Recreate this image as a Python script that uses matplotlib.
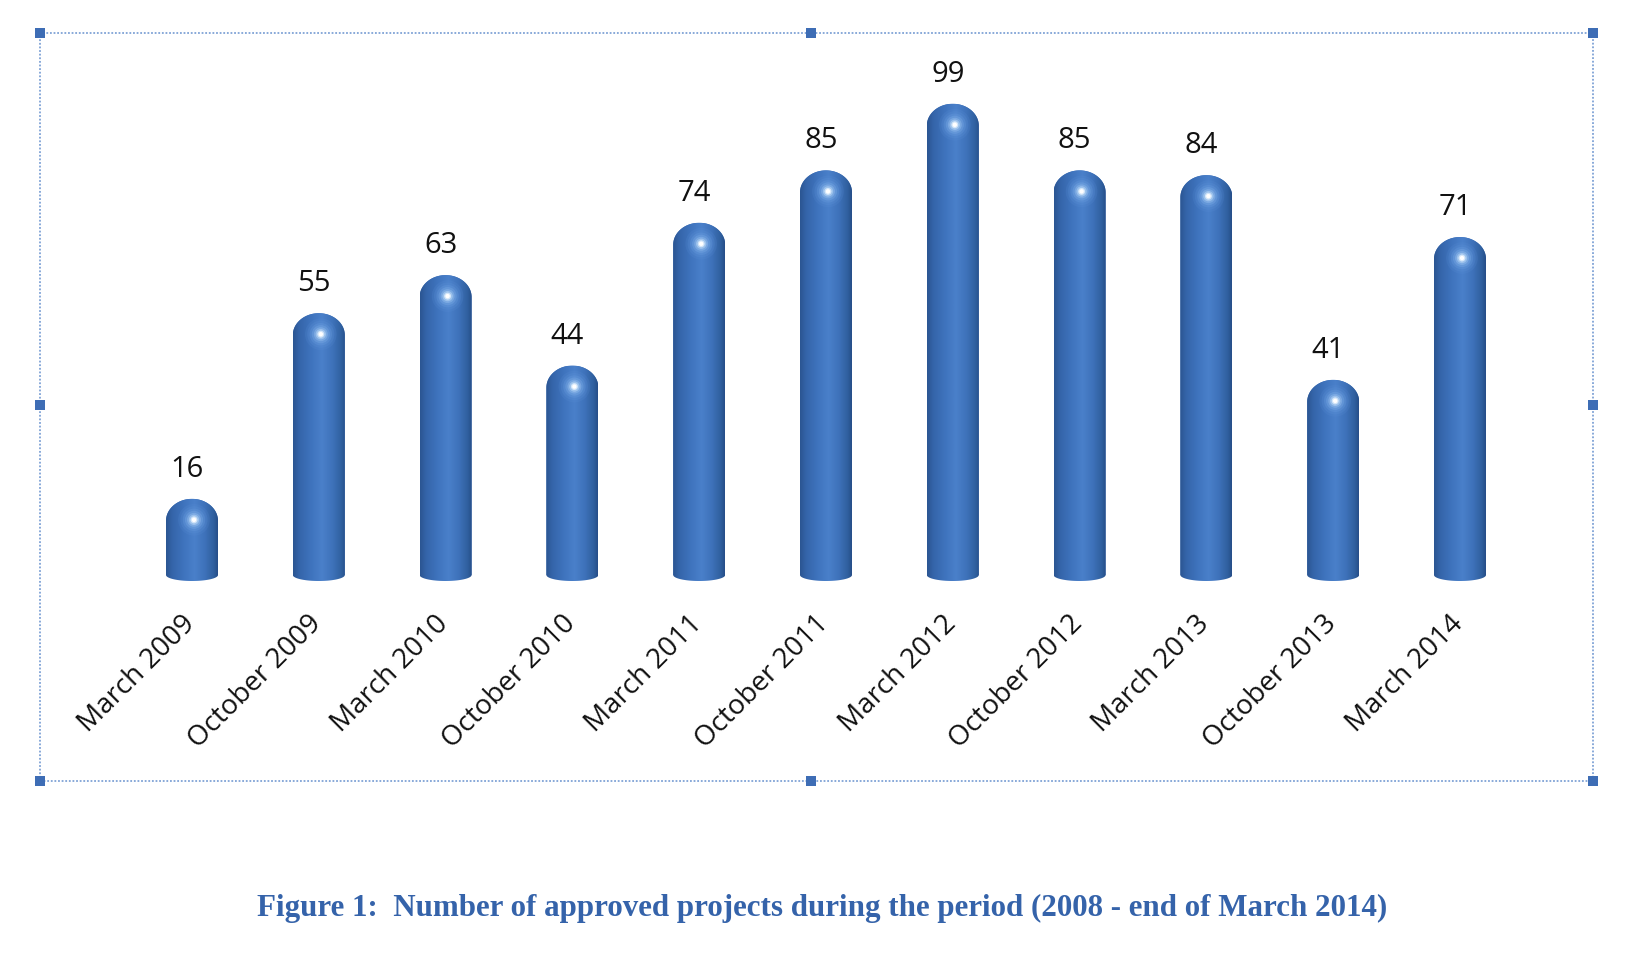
import numpy as np
import matplotlib
matplotlib.use("Agg")
import matplotlib.pyplot as plt
from matplotlib.patches import Polygon, Rectangle
from matplotlib.colors import LinearSegmentedColormap

# ---- data ----
categories = ["March 2009", "October 2009", "March 2010", "October 2010",
              "March 2011", "October 2011", "March 2012", "October 2012",
              "March 2013", "October 2013", "March 2014"]
values = [16, 55, 63, 44, 74, 85, 99, 85, 84, 41, 71]
title = "Figure 1:  Number of approved projects during the period (2008 - end of March 2014)"

W, H = 1630, 965
fig = plt.figure(figsize=(W / 100, H / 100), dpi=100)
fig.patch.set_facecolor("white")

# axes spans the chart frame
fl, fr, ft, fb = 40, 1593, 33, 781
ax = fig.add_axes([fl / W, 1 - fb / H, (fr - fl) / W, (fb - ft) / H])
pxu = 126.8                      # pixels per category
x0 = -(192 - fl) / pxu
x1 = 10 + (fr - 1460) / pxu
ax.set_xlim(x0, x1)
pyu = 4.76                       # pixels per value unit
base = 575
ax.set_ylim((base - fb) / pyu, (base - ft) / pyu)
ax.axis("off")

x = np.arange(len(categories))
bar_w = 52 / pxu
bars = ax.bar(x, values, width=bar_w, color="#3E70B8", zorder=2)

dome_h = 22 / pyu
bot_h = 6 / pyu
cmap = LinearSegmentedColormap.from_list(
    "cyl", [(0.0, "#2B5592"), (0.12, "#3565AA"), (0.35, "#3F74BE"),
            (0.55, "#4A80CA"), (0.75, "#3E72BA"), (0.92, "#30609F"),
            (1.0, "#264E88")])
grad = np.linspace(0, 1, 200)[None, :]

glow_sizes = [520, 380, 260, 170, 100, 55, 25, 10]
glow_cols = ["#5B8FD6", "#6398DC", "#70A3E3", "#84B3EA", "#9CC4F0", "#BAD8F6", "#E2F0FD", "#FFFFFF"]
glow_alpha = [0.18, 0.2, 0.25, 0.3, 0.4, 0.55, 0.8, 1.0]

for b in bars:
    bx, bw, bh = b.get_x(), b.get_width(), b.get_height()
    cx, a = bx + bw / 2, bw / 2
    t_bot = np.linspace(np.pi, 2 * np.pi, 60)
    t_top = np.linspace(0, np.pi, 80)
    pts = np.vstack([
        np.column_stack([cx + a * np.cos(t_bot), bot_h * np.sin(t_bot)]),
        np.column_stack([cx + a * np.cos(t_top), bh - dome_h + dome_h * np.sin(t_top)]),
    ])
    poly = Polygon(pts, closed=True, transform=ax.transData, facecolor="none", edgecolor="none")
    ax.add_patch(poly)
    b.set_clip_path(poly)
    im = ax.imshow(grad, cmap=cmap, extent=[bx, bx + bw, -bot_h, bh],
                   aspect="auto", interpolation="bicubic", zorder=3)
    im.set_clip_path(poly)
    # soft specular highlight on the dome
    hy = bh - 21 / pyu
    hx = cx + 2 / pxu
    for k, (s, c, al) in enumerate(zip(glow_sizes, glow_cols, glow_alpha)):
        sc = ax.scatter([hx], [hy], s=s, color=c, alpha=al, edgecolors="none", zorder=4 + k * 0.01)
        sc.set_clip_path(poly)

# value labels
for xi, v in zip(x, values):
    ax.annotate(str(v), (xi, v), xytext=(-5, 22), textcoords="offset pixels",
                ha="center", va="baseline", fontsize=21, family="Open Sans",
                color="#111111", zorder=7)

# category labels
for xi, lab in zip(x, categories):
    ax.text(xi - 1 / pxu, -45 / pyu, lab, rotation=45, rotation_mode="anchor",
            ha="right", va="center", fontsize=20, family="Open Sans", color="#111111")

# chart frame with selection handles
fig.add_artist(Rectangle((fl / W, 1 - fb / H), (fr - fl) / W, (fb - ft) / H,
                         transform=fig.transFigure, fill=False, edgecolor="#7FA2D6",
                         linewidth=1.3, linestyle=(0, (1, 1))))
hs = 10
for hx_, hy_ in [(fl, ft), (811, ft), (fr, ft), (fl, 405), (fr, 405),
                 (fl, fb), (811, fb), (fr, fb)]:
    fig.add_artist(Rectangle(((hx_ - hs / 2) / W, 1 - (hy_ + hs / 2) / H), hs / W, hs / H,
                             transform=fig.transFigure, facecolor="#3E6DB5", edgecolor="none"))

# caption, fitted to the width measured in the reference
txt = fig.text(822 / W, 1 - 916 / H, title, ha="center", va="baseline",
               family="Liberation Serif", fontweight="bold", fontsize=22, color="#3563AA")
fig.canvas.draw()
wpx = txt.get_window_extent(fig.canvas.get_renderer()).width
txt.set_fontsize(22 * 1130 / wpx)

fig.savefig("out.png", dpi=100)
